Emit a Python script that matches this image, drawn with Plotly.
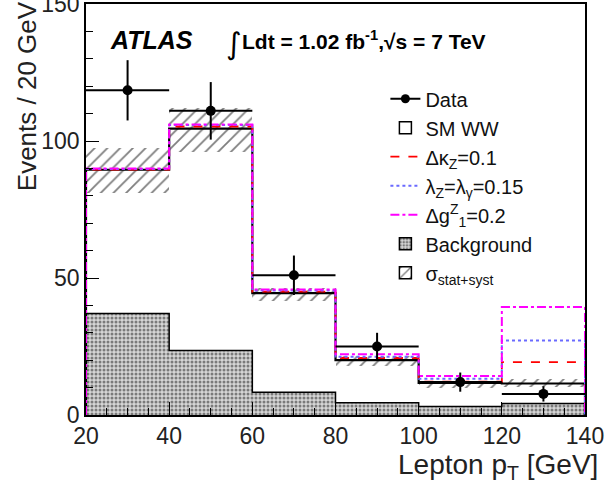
import plotly.graph_objects as go

# ---------------- data ----------------
edges = [20, 40, 60, 80, 100, 120, 140]
centers = [30, 50, 70, 90, 110, 130]
data_y = [118.5, 111, 51, 25, 12, 7.7]
data_err = [11, 10.5, 7.2, 5, 3.5, 2.8]
sm_ww = [89.5, 104.5, 44.5, 20, 11.7, 11.5]
dkz = [89.6, 105.3, 45, 20.8, 12.2, 19.3]
lam = [89.8, 105.8, 45.4, 21.3, 13.2, 27.2]
dg1 = [90, 106, 45.8, 22.2, 14.2, 39.4]
bkg = [37, 23.5, 8.3, 4.5, 3.1, 4.2]
band_lo = [81, 96, 41.5, 18, 10, 10.3]
band_hi = [97.5, 112, 46.5, 21.5, 12.5, 13]

x_ticks = [20, 40, 60, 80, 100, 120, 140]
y_ticks = [0, 50, 100, 150]

widths = [b - a for a, b in zip(edges[:-1], edges[1:])]
half = [w / 2 for w in widths]


def step(vals):
    xs = [edges[0]] + edges[:-1] + [edges[-1], edges[-1]]
    ys = [0] + list(vals) + [vals[-1], 0]
    return xs, ys


FONT = "Liberation Sans, Arial, Helvetica, sans-serif"
fig = go.Figure()

bkg_pattern = dict(shape=".", fgcolor="#7a7a7a", bgcolor="#d6d6d6",
                   size=4, solidity=0.45, fillmode="replace")
hatch_pattern = dict(shape="/", fgcolor="#7f7f7f", bgcolor="rgba(0,0,0,0)",
                     size=9, solidity=0.2, fillmode="replace")

# background histogram (filled)
fig.add_trace(go.Bar(x=centers, y=bkg, width=widths,
                     marker=dict(color="#d6d6d6", pattern=bkg_pattern,
                                 line=dict(width=0)),
                     showlegend=False, hoverinfo="skip"))
bx, by = step(bkg)
fig.add_trace(go.Scatter(x=bx, y=by, mode="lines", line_shape="hv",
                         line=dict(color="black", width=1.5),
                         showlegend=False, hoverinfo="skip"))

# uncertainty band
fig.add_trace(go.Bar(x=centers, base=band_lo,
                     y=[h - l for h, l in zip(band_hi, band_lo)], width=widths,
                     marker=dict(color="rgba(0,0,0,0)", pattern=hatch_pattern,
                                 line=dict(width=0)),
                     showlegend=False, hoverinfo="skip"))

# SM WW line
sx, sy = step(sm_ww)
fig.add_trace(go.Scatter(x=sx, y=sy, mode="lines", line_shape="hv",
                         line=dict(color="black", width=2.2),
                         showlegend=False, hoverinfo="skip"))

# Legend-only entries (Data, SM WW)
fig.add_trace(go.Scatter(x=[None], y=[None], mode="lines+markers",
                         line=dict(color="black", width=2),
                         marker=dict(color="black", size=9),
                         name="Data", legendrank=1, legendgroup="a"))
fig.add_trace(go.Bar(x=[None], y=[None],
                     marker=dict(color="white", line=dict(color="black", width=1.5)),
                     name="SM WW", legendrank=2, legendgroup="b"))

# anomalous couplings
for vals, col, dash, name, rank, w in [
    (dkz, "#ff0000", "dash", "Δκ<sub>Z</sub>=0.1", 3, 1.8),
    (lam, "#6a6aff", "dot", "λ<sub>Z</sub>=λ<sub>γ</sub>=0.15", 4, 2.0),
    (dg1, "#ff00ff", "dashdot", "Δg<sup>Z</sup><sub>1</sub>=0.2", 5, 2.0),
]:
    xx, yy = step(vals)
    fig.add_trace(go.Scatter(x=xx, y=yy, mode="lines", line_shape="hv",
                             line=dict(color=col, width=w, dash=dash),
                             name=name, legendrank=rank, legendgroup=name,
                             hoverinfo="skip"))

fig.add_trace(go.Bar(x=[None], y=[None],
                     marker=dict(color="#d6d6d6", pattern=bkg_pattern,
                                 line=dict(color="black", width=1.5)),
                     name="Background", legendrank=6, legendgroup="f"))
fig.add_trace(go.Bar(x=[None], y=[None],
                     marker=dict(color="white", pattern=hatch_pattern,
                                 line=dict(color="black", width=1.5)),
                     name="σ<sub>stat+syst</sub>", legendrank=7, legendgroup="g"))

# data points
fig.add_trace(go.Scatter(x=centers, y=data_y, mode="markers",
                         marker=dict(color="black", size=10),
                         error_y=dict(type="data", array=data_err, width=0,
                                      thickness=2, color="black"),
                         error_x=dict(type="data", array=half, width=0,
                                      thickness=2, color="black"),
                         showlegend=False, hoverinfo="skip"))

tick_common = dict(ticks="inside", ticklen=13, tickwidth=1.4, tickcolor="black",
                   showgrid=False, zeroline=False, automargin=False)

fig.update_layout(
    xaxis=dict(range=[20, 140], tickvals=x_ticks, showline=True, linecolor="black",
               linewidth=1.6, mirror=True, ticklabeloverflow="allow",
               tickfont=dict(family=FONT, size=23, color="#222"),
               minor=dict(ticks="inside", dtick=5, ticklen=7, tickwidth=1.2,
                          tickcolor="black"), **tick_common),
    yaxis=dict(range=[0, 150], tickvals=y_ticks, showline=True, linecolor="black",
               linewidth=1.6, mirror=True, ticklabeloverflow="allow",
               tickfont=dict(family=FONT, size=23, color="#222"),
               minor=dict(ticks="inside", dtick=10, ticklen=7, tickwidth=1.2,
                          tickcolor="black"), **tick_common),
    xaxis2=dict(range=[20, 140], tickvals=x_ticks, overlaying="x", side="top",
                anchor="y", showticklabels=False, showline=False,
                minor=dict(ticks="inside", dtick=5, ticklen=7, tickwidth=1.2,
                           tickcolor="black"), **tick_common),
    yaxis2=dict(range=[0, 150], tickvals=y_ticks, overlaying="y", side="right",
                anchor="x", showticklabels=False, showline=False,
                minor=dict(ticks="inside", dtick=10, ticklen=7, tickwidth=1.2,
                           tickcolor="black"), **tick_common),
    width=609, height=486,
    margin=dict(l=86, r=24, t=4, b=71, autoexpand=False),
    paper_bgcolor="white", plot_bgcolor="white",
    barmode="overlay", bargap=0,
    font=dict(family=FONT, color="black"),
    legend=dict(x=0.6, y=0.817, xanchor="left", yanchor="top",
                bgcolor="rgba(0,0,0,0)", borderwidth=0,
                font=dict(family=FONT, size=20, color="#111"),
                traceorder="grouped", tracegroupgap=0,
                itemwidth=30),
    annotations=[
        dict(text="<b><i>ATLAS</i></b>", x=0.044, y=0.912, xref="paper", yref="paper",
             xanchor="left", yanchor="middle", showarrow=False,
             font=dict(family=FONT, size=25, color="black")),
        dict(text="∫", x=0.276, y=0.905, xref="paper", yref="paper",
             xanchor="left", yanchor="middle", showarrow=False,
             font=dict(family="DejaVu Sans", size=30, color="black")),
        dict(text="<b>Ldt = 1.02 fb<sup>-1</sup>,√s = 7 TeV</b>", x=0.308, y=0.912,
             xref="paper", yref="paper", xanchor="left", yanchor="middle",
             showarrow=False, font=dict(family=FONT, size=21, color="black")),
        dict(text="Events / 20 GeV", x=-0.118, y=1.012, xref="paper", yref="paper",
             xanchor="center", yanchor="top", textangle=-90, showarrow=False,
             font=dict(family=FONT, size=26, color="#222")),
        dict(text="Lepton p<sub>T</sub> [GeV]", x=1.03, y=-0.125, xref="paper",
             yref="paper", xanchor="right", yanchor="middle", showarrow=False,
             font=dict(family=FONT, size=28, color="#222")),
    ],
)

fig.write_html("out.html")
